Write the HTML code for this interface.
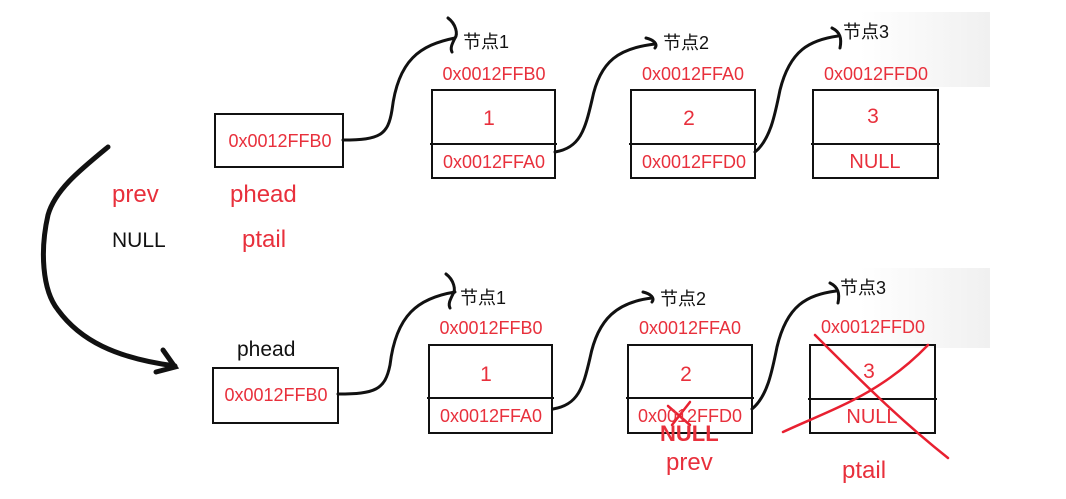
<!DOCTYPE html>
<html><head><meta charset="utf-8"><style>
html,body{margin:0;padding:0;background:#fff}
svg{display:block}
text{font-family:"Liberation Sans","Noto Sans CJK SC",sans-serif}
.r{fill:#e8303c}
.k{fill:#111}
</style></head><body>
<svg width="1066" height="499" viewBox="0 0 1066 499" xmlns="http://www.w3.org/2000/svg">
<defs><linearGradient id="g" x1="0" y1="0" x2="1" y2="0"><stop offset="0" stop-color="#fff"/><stop offset="1" stop-color="#f0f0f0"/></linearGradient></defs>
<rect x="860" y="12" width="130" height="75" fill="url(#g)"/>
<rect x="860" y="268" width="130" height="80" fill="url(#g)"/>
<g fill="none" stroke="#111" stroke-width="2">
<!-- top row boxes -->
<rect x="215" y="114" width="128" height="53"/>
<rect x="432" y="90" width="123" height="88"/><line x1="430" y1="144" x2="557" y2="144"/>
<rect x="631" y="90" width="124" height="88"/><line x1="629" y1="144" x2="757" y2="144"/>
<rect x="813" y="90" width="125" height="88"/><line x1="811" y1="144" x2="940" y2="144"/>
<!-- bottom row boxes -->
<rect x="213" y="368" width="125" height="55"/>
<rect x="429" y="345" width="123" height="88"/><line x1="427" y1="398" x2="554" y2="398"/>
<rect x="628" y="345" width="124" height="88"/><line x1="626" y1="398" x2="754" y2="398"/>
<rect x="810" y="345" width="125" height="88"/><line x1="808" y1="399" x2="937" y2="399"/>
</g>
<g fill="none" stroke="#111" stroke-width="3" stroke-linecap="round">
<!-- top connectors -->
<path d="M343 140 C380 140 388 135 392 110 C398 60 420 45 455 38"/>
<path d="M448 18 C456 24 458 34 455 38 C452 44 450 48 452 52"/>
<path d="M555 152 C580 148 585 130 592 100 C600 60 620 48 655 44"/>
<path d="M646 38 C654 40 658 44 655 48"/>
<path d="M755 152 C770 140 775 115 780 90 C790 50 810 40 838 36"/>
<path d="M832 28 C840 32 842 38 840 48"/>
<!-- bottom connectors -->
<path d="M338 394 C375 394 385 390 390 365 C396 315 418 298 455 292"/>
<path d="M446 274 C454 280 456 290 453 294 C450 300 448 304 450 308"/>
<path d="M553 409 C578 405 583 388 590 358 C598 318 618 302 652 298"/>
<path d="M643 292 C651 294 655 298 652 302"/>
<path d="M752 409 C767 397 772 372 777 347 C787 305 807 295 836 291"/>
<path d="M830 283 C838 287 840 293 838 303"/>
<!-- big curved arrow -->
<path d="M108 147 C80 170 55 190 48 215 C40 250 42 290 58 310 C80 340 115 358 175 366" stroke-width="5"/>
<path d="M163 350 L175 367 L156 372" stroke-width="5"/>
</g>
<!-- red crosses -->
<g fill="none" stroke="#e82030" stroke-width="2.5" stroke-linecap="round">
<path d="M815 335 C860 380 900 420 948 458"/>
<path d="M783 432 C830 410 880 395 928 345"/>
<path d="M668 406 L690 425"/><path d="M690 402 L672 425"/>
</g>
<!-- top texts -->
<g font-size="18">
<text x="280" y="147" text-anchor="middle" class="r">0x0012FFB0</text>
<text x="494" y="80" text-anchor="middle" class="r">0x0012FFB0</text>
<text x="693" y="80" text-anchor="middle" class="r">0x0012FFA0</text>
<text x="876" y="80" text-anchor="middle" class="r">0x0012FFD0</text>
<text x="494" y="168" text-anchor="middle" class="r">0x0012FFA0</text>
<text x="694" y="168" text-anchor="middle" class="r">0x0012FFD0</text>
<text x="875" y="168" text-anchor="middle" class="r" font-size="20">NULL</text>
<text x="489" y="125" text-anchor="middle" class="r" font-size="21">1</text>
<text x="689" y="125" text-anchor="middle" class="r" font-size="21">2</text>
<text x="873" y="123" text-anchor="middle" class="r" font-size="21">3</text>
<text x="463" y="48" class="k" font-size="18">节点1</text>
<text x="663" y="49" class="k" font-size="18">节点2</text>
<text x="843" y="38" class="k" font-size="18">节点3</text>
<!-- bottom -->
<text x="276" y="401" text-anchor="middle" class="r">0x0012FFB0</text>
<text x="491" y="334" text-anchor="middle" class="r">0x0012FFB0</text>
<text x="690" y="334" text-anchor="middle" class="r">0x0012FFA0</text>
<text x="873" y="333" text-anchor="middle" class="r">0x0012FFD0</text>
<text x="491" y="422" text-anchor="middle" class="r">0x0012FFA0</text>
<text x="690" y="422" text-anchor="middle" class="r">0x0012FFD0</text>
<text x="872" y="423" text-anchor="middle" class="r" font-size="20">NULL</text>
<text x="486" y="381" text-anchor="middle" class="r" font-size="21">1</text>
<text x="686" y="381" text-anchor="middle" class="r" font-size="21">2</text>
<text x="869" y="378" text-anchor="middle" class="r" font-size="21">3</text>
<text x="460" y="304" class="k">节点1</text>
<text x="660" y="305" class="k">节点2</text>
<text x="840" y="294" class="k">节点3</text>
</g>
<g font-size="24">
<text x="230" y="202" class="r">phead</text>
<text x="242" y="247" class="r">ptail</text>
<text x="112" y="202" class="r">prev</text>
<text x="112" y="247" class="k" font-size="21">NULL</text>
<text x="237" y="356" class="k" font-size="21">phead</text>
<text x="660" y="441" class="r" font-weight="bold" font-size="22">NULL</text>
<text x="666" y="470" class="r">prev</text>
<text x="842" y="478" class="r">ptail</text>
</g>
</svg>
</body></html>
